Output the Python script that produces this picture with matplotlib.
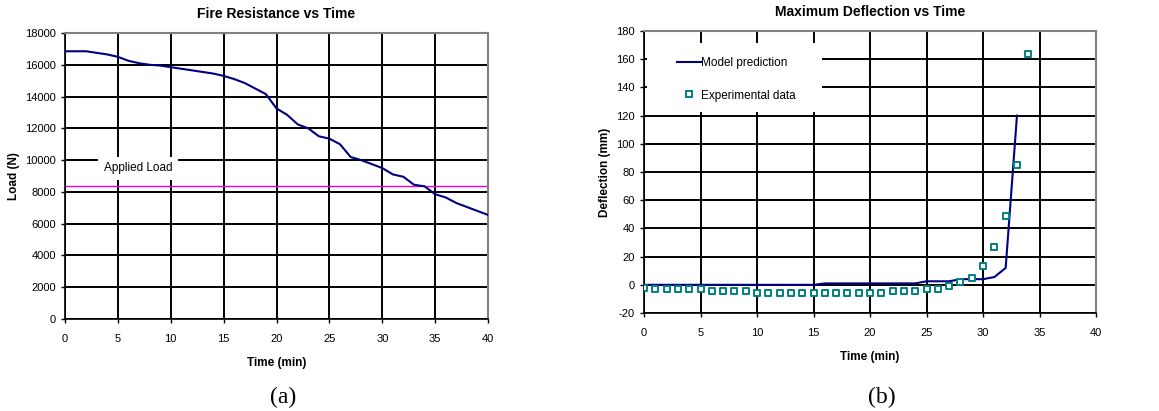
import matplotlib
matplotlib.use('Agg')
import matplotlib.pyplot as plt
from matplotlib.lines import Line2D
from matplotlib.patches import Rectangle

plt.rcParams['font.family'] = ['Liberation Sans', 'DejaVu Sans']
plt.rcParams['axes.unicode_minus'] = False

# (a) fire resistance
time_a = list(range(0, 41))
load = [16850, 16850, 16850, 16750, 16650, 16500, 16250, 16100, 16000, 15950,
        15850, 15750, 15650, 15550, 15450, 15300, 15100, 14850, 14500, 14150,
        13250, 12850, 12250, 12000, 11500, 11350, 11000, 10200, 10000, 9750,
        9500, 9100, 8950, 8450, 8350, 7850, 7650, 7300, 7050, 6800, 6550]
applied_load = 8400

# (b) deflection
time_model = list(range(0, 34))
model_defl = [0, 0, 0, 0, 0, 0, 0, 0, 0, 0, 0, 0, 0, 0, 0, 0,
              1, 1, 1, 1, 1, 1, 1, 1, 1,
              2.5, 2.5, 2.5, 4, 4, 4, 5.5, 12, 120]
time_exp = list(range(0, 35))
exp_defl = [-2, -3, -3, -3, -3, -3, -4.5, -4.5, -4.5, -4.5,
            -6, -6, -6, -6, -6, -6, -6, -6, -6, -6, -6, -6,
            -4.5, -4.5, -4.5, -3, -3, -1, 2, 5, 13, 27, 49, 85, 164]

NAVY = '#000080'
TEAL = '#008080'


def style_axes(ax):
    ax.grid(True, color='black', linewidth=1.4)
    ax.set_axisbelow(True)
    for side in ['top', 'right']:
        ax.spines[side].set_color('#808080')
        ax.spines[side].set_linewidth(1.5)
    for side in ['left', 'bottom']:
        ax.spines[side].set_color('black')
        ax.spines[side].set_linewidth(1.2)
    ax.tick_params(labelsize=8, length=3, width=1, direction='out')
    ax.tick_params(axis='x', pad=7.5)


fig = plt.figure(figsize=(11.59, 4.11), dpi=100)

ax1 = fig.add_axes([0.0561, 0.2238, 0.3650, 0.6959])
ax1.plot(time_a, load, color=NAVY, linewidth=1.5, zorder=3)
ax1.axhline(applied_load, color='#e600e6', linewidth=1.0, zorder=2)
ax1.text(6.9, 9500, 'Applied Load', fontsize=8.5, ha='center', va='center',
         bbox=dict(facecolor='white', edgecolor='none', pad=4), zorder=4)
ax1.set_xlim(0, 40)
ax1.set_ylim(0, 18000)
ax1.set_xticks(range(0, 41, 5))
ax1.set_yticks(range(0, 18001, 2000))
style_axes(ax1)
ax1.set_title('Fire Resistance vs Time', fontsize=10, fontweight='bold', pad=11)
ax1.set_xlabel('Time (min)', fontsize=8.5, fontweight='bold', labelpad=10)
ax1.set_ylabel('Load (N)', fontsize=8.5, fontweight='bold')

ax2 = fig.add_axes([0.5557, 0.2384, 0.3900, 0.6862])
ax2.plot(time_model, model_defl, color=NAVY, linewidth=1.5, zorder=3)
ax2.scatter(time_exp, exp_defl, marker='s', s=18, facecolors='white',
            edgecolors=TEAL, linewidths=1.4, zorder=4)
ax2.set_xlim(0, 40)
ax2.set_ylim(-20, 180)
ax2.set_xticks(range(0, 41, 5))
ax2.set_yticks(range(-20, 181, 20))
style_axes(ax2)
ax2.set_title('Maximum Deflection vs Time', fontsize=10, fontweight='bold', pad=11)
ax2.set_xlabel('Time (min)', fontsize=8.5, fontweight='bold', labelpad=10)
ax2.set_ylabel('Deflection (mm)', fontsize=8.5, fontweight='bold')

# white legend backdrop, wider than the legend itself
ax2.add_patch(Rectangle((0.0066, 0.713), 0.387, 0.244, transform=ax2.transAxes,
                        facecolor='white', edgecolor='none', zorder=1))
handles = [Line2D([], [], color=NAVY, linewidth=1.5),
           Line2D([], [], marker='s', linestyle='none', markersize=4.2,
                  markerfacecolor='white', markeredgecolor=TEAL,
                  markeredgewidth=1.4)]
leg = ax2.legend(handles, ['Model prediction', 'Experimental data'],
                 loc='upper left', bbox_to_anchor=(0.073, 0.908), fontsize=8.5,
                 frameon=False, handlelength=2.0, labelspacing=1.75,
                 borderpad=0, handletextpad=0.05, borderaxespad=0)
leg.set_zorder(5)

fig.text(0.244, 0.02, '(a)', fontsize=17, family='Liberation Serif', ha='center')
fig.text(0.761, 0.02, '(b)', fontsize=17, family='Liberation Serif', ha='center')

fig.savefig('out.png', dpi=100)
